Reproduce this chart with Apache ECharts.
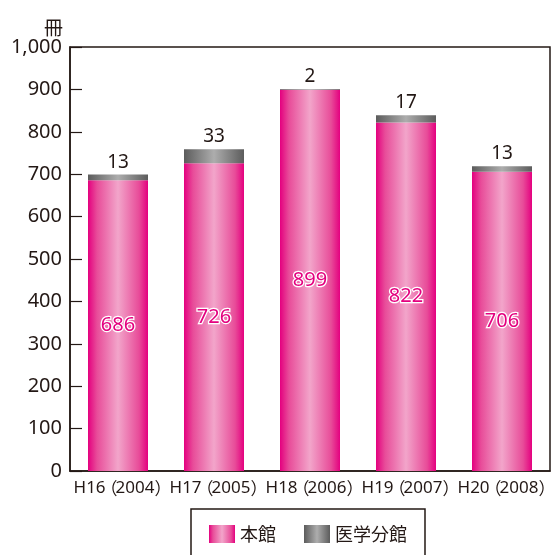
<!DOCTYPE html>
<html>
<head>
<meta charset="utf-8">
<script src="https://cdn.jsdelivr.net/npm/echarts@6/dist/echarts.min.js"></script>
<style>
  html, body { margin: 0; padding: 0; background: #fff; }
  #chart { width: 553px; height: 555px; }
</style>
</head>
<body>
<div id="chart"></div>
<script>
// Yearly figures (冊) for the main library and the medical branch
const years = ['H16（2004）', 'H17（2005）', 'H18（2006）', 'H19（2007）', 'H20（2008）'];
const mainLibrary = [686, 726, 899, 822, 706];
const medicalBranch = [13, 33, 2, 17, 13];
const seriesNames = ['本館', '医学分館'];
const unitLabel = '冊';

const ink = '#231815';
const fontLatin = '"Noto Sans", "Noto Sans CJK JP", sans-serif';
const fontCJK = '"Noto Sans CJK JP", "Noto Sans", sans-serif';

// Cylinder-like horizontal shading for the bars
const pinkShade = {
  type: 'linear', x: 0, y: 0, x2: 1, y2: 0,
  colorStops: [
    { offset: 0, color: '#E4007F' },
    { offset: 0.15, color: '#E84C99' },
    { offset: 0.5, color: '#F2A5CA' },
    { offset: 0.85, color: '#E84C99' },
    { offset: 1, color: '#E4007F' }
  ]
};
const grayShade = {
  type: 'linear', x: 0, y: 0, x2: 1, y2: 0,
  colorStops: [
    { offset: 0, color: '#5C5C5C' },
    { offset: 0.5, color: '#ADADAD' },
    { offset: 1, color: '#5C5C5C' }
  ]
};

// Split a category label into pieces so the full-width brackets sit tightly
function yearLabel(text) {
  const m = text.match(/^(.*?)（(.*?)）$/);
  if (!m) return text;
  return '{h|' + m[1] + '}{lp|（}{n|' + m[2] + '}{rp|）}';
}

const labelPiece = { fontFamily: fontLatin, fontSize: 17, color: ink, align: 'left' };

const chart = echarts.init(document.getElementById('chart'), null, { renderer: 'canvas' });

chart.setOption({
  animation: false,
  backgroundColor: '#fff',
  grid: {
    left: 70, right: 3, top: 47, bottom: 84,
    containLabel: false,
    outerBoundsMode: 'none',
    show: true, borderColor: ink, borderWidth: 1.5, backgroundColor: 'transparent'
  },
  legend: {
    data: seriesNames,
    left: 191, top: 509,
    padding: [16, 18, 22, 18],
    borderColor: ink, borderWidth: 1.5,
    itemWidth: 26, itemHeight: 18, itemGap: 28,
    icon: 'rect',
    textStyle: { fontFamily: fontCJK, fontSize: 18, color: ink }
  },
  xAxis: {
    type: 'category',
    data: years,
    axisLine: { lineStyle: { color: ink, width: 1.5 } },
    axisTick: { inside: true, length: 10, lineStyle: { color: ink, width: 1.2 } },
    axisLabel: {
      interval: 0, margin: 9,
      fontFamily: fontLatin, fontSize: 17, color: ink,
      formatter: yearLabel,
      rich: {
        h: Object.assign({}, labelPiece, { width: 27 }),
        lp: Object.assign({}, labelPiece, { fontFamily: fontCJK, width: 15 }),
        n: Object.assign({}, labelPiece),
        rp: Object.assign({}, labelPiece, { fontFamily: fontCJK, width: 8 })
      }
    }
  },
  yAxis: {
    type: 'value',
    min: 0, max: 1000, interval: 100,
    name: unitLabel,
    nameLocation: 'end',
    nameGap: 10,
    nameTextStyle: { fontFamily: fontCJK, fontSize: 19, color: ink, align: 'right', padding: [0, 7, 0, 0] },
    axisLine: { show: true, lineStyle: { color: ink, width: 1.5 } },
    axisTick: { show: true, inside: true, length: 12, lineStyle: { color: ink, width: 1.2 } },
    splitLine: { show: false },
    axisLabel: {
      margin: 8, fontFamily: fontLatin, fontSize: 20, color: ink,
      formatter: v => v.toLocaleString('en-US')
    }
  },
  series: [
    {
      name: seriesNames[0],
      type: 'bar',
      stack: 'total',
      barWidth: 60,
      data: mainLibrary,
      itemStyle: { color: pinkShade },
      label: {
        show: true, position: 'inside',
        fontFamily: fontLatin, fontSize: 20,
        color: '#E4007F', textBorderColor: '#fff', textBorderWidth: 2.5
      }
    },
    {
      name: seriesNames[1],
      type: 'bar',
      stack: 'total',
      barWidth: 60,
      data: medicalBranch,
      itemStyle: { color: grayShade },
      label: {
        show: true, position: 'top', distance: 3,
        fontFamily: fontLatin, fontSize: 19, color: ink
      }
    }
  ]
});
</script>
</body>
</html>
